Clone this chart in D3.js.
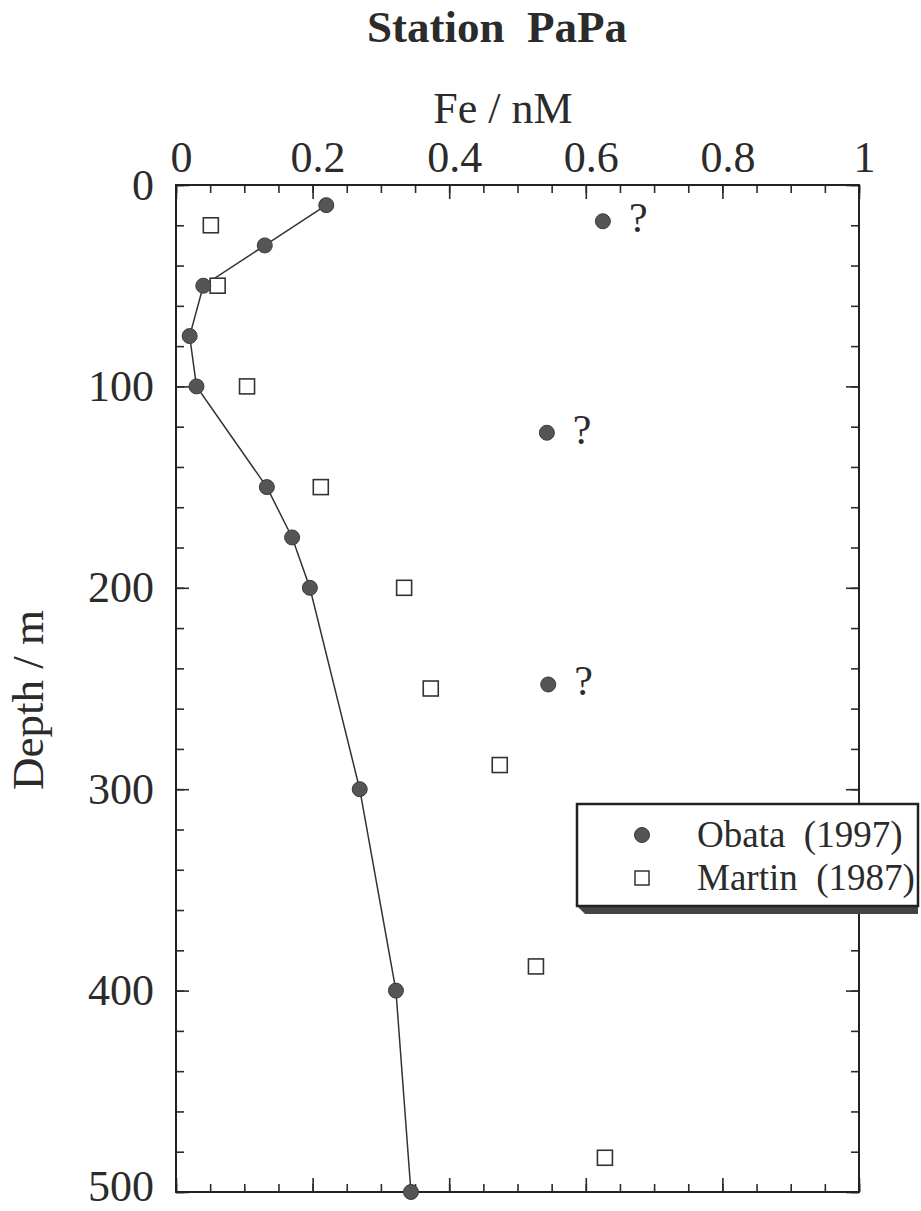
<!DOCTYPE html>
<html>
<head>
<meta charset="utf-8">
<script src="https://cdn.jsdelivr.net/npm/d3@7"></script>
<style>
  body { margin: 0; background: #fff; }
  svg text { font-family: "Liberation Serif", "Times New Roman", serif; fill: #2b2b2b; }
</style>
</head>
<body>
<script>
// Obata (1997) profile, connected
var obataFe    = [0.22, 0.13, 0.04, 0.02, 0.03, 0.133, 0.17, 0.196, 0.269, 0.322, 0.344];
var obataDepth = [10, 30, 50, 75, 100, 150, 175, 200, 300, 400, 500];
// Obata questionable points
var doubtFe    = [0.625, 0.543, 0.545];
var doubtDepth = [18, 123, 248];
// Martin (1987)
var martinFe    = [0.051, 0.061, 0.104, 0.212, 0.334, 0.373, 0.474, 0.527, 0.628];
var martinDepth = [20, 50, 100, 150, 200, 250, 288, 388, 483];

var xMajor = [0, 0.2, 0.4, 0.6, 0.8, 1];
var yMajor = [0, 100, 200, 300, 400, 500];
var legendLabels = ["Obata  (1997)", "Martin  (1987)"];

var W = 921, H = 1211;
var svg = d3.select("body").append("svg").attr("width", W).attr("height", H);

var x = d3.scaleLinear().domain([0, 1]).range([176, 859]);
var y = d3.scaleLinear().domain([0, 500]).range([185, 1192]);
var fmt = function (d) { return d === 0 ? "0" : d === 1 ? "1" : d3.format(".1f")(d); };

// minor ticks
svg.append("g").attr("transform", "translate(0," + y(0) + ")")
    .call(d3.axisTop(x).tickValues(x.ticks(20)).tickSize(-8).tickFormat(""));
svg.append("g").attr("transform", "translate(0," + y(500) + ")")
    .call(d3.axisBottom(x).tickValues(x.ticks(20)).tickSize(-8).tickFormat(""));
svg.append("g").attr("transform", "translate(" + x(0) + ",0)")
    .call(d3.axisLeft(y).tickValues(y.ticks(25)).tickSize(-8).tickFormat(""));
svg.append("g").attr("transform", "translate(" + x(1) + ",0)")
    .call(d3.axisRight(y).tickValues(y.ticks(25)).tickSize(-8).tickFormat(""));

// major ticks with labels
var xTop = svg.append("g").attr("transform", "translate(0," + y(0) + ")")
    .call(d3.axisTop(x).tickValues(xMajor).tickSize(-14).tickPadding(13).tickFormat(fmt));
xTop.selectAll("text").attr("dx", 5);
svg.append("g").attr("transform", "translate(0," + y(500) + ")")
    .call(d3.axisBottom(x).tickValues(xMajor).tickSize(-14).tickFormat(""));
var yLeft = svg.append("g").attr("transform", "translate(" + x(0) + ",0)")
    .call(d3.axisLeft(y).tickValues(yMajor).tickSize(-13).tickPadding(22).tickFormat(d3.format("d")));
// keep the bottom label inside the page
yLeft.selectAll("text").filter(function (d) { return d === 500; }).attr("dy", "0.2em");
svg.append("g").attr("transform", "translate(" + x(1) + ",0)")
    .call(d3.axisRight(y).tickValues(yMajor).tickSize(-13).tickFormat(""));

svg.selectAll(".domain").remove();
svg.selectAll("g").attr("font-family", null);
svg.selectAll(".tick line").attr("stroke", "#2b2b2b").attr("stroke-width", 1.6);
svg.selectAll(".tick text").attr("font-size", 44).attr("fill", "#2b2b2b");

// frame
svg.append("rect")
    .attr("x", x(0)).attr("y", y(0))
    .attr("width", x(1) - x(0)).attr("height", y(500) - y(0))
    .attr("fill", "none").attr("stroke", "#222").attr("stroke-width", 2);

// titles
svg.append("text").attr("x", 497).attr("y", 42).attr("text-anchor", "middle")
    .style("font-size", "45px").style("font-weight", "bold").style("white-space", "pre")
    .text("Station  PaPa");
svg.append("text").attr("x", 503).attr("y", 123).attr("text-anchor", "middle")
    .style("font-size", "44px").text("Fe / nM");
svg.append("text").attr("transform", "translate(43,700) rotate(-90)")
    .attr("text-anchor", "middle").style("font-size", "45px").text("Depth / m");

// Obata line
var obata = obataFe.map(function (d, i) { return { fe: d, depth: obataDepth[i] }; });
svg.append("path").datum(obata)
    .attr("fill", "none").attr("stroke", "#333").attr("stroke-width", 1.5)
    .attr("d", d3.line().x(function (d) { return x(d.fe); }).y(function (d) { return y(d.depth); }));

// Martin squares
var martin = martinFe.map(function (d, i) { return { fe: d, depth: martinDepth[i] }; });
svg.selectAll(".martin").data(martin).enter().append("rect")
    .attr("class", "martin")
    .attr("x", function (d) { return x(d.fe) - 7.5; })
    .attr("y", function (d) { return y(d.depth) - 7.5; })
    .attr("width", 15).attr("height", 15)
    .attr("fill", "#fff").attr("stroke", "#333").attr("stroke-width", 1.6);

// Obata circles
svg.selectAll(".obata").data(obata).enter().append("circle")
    .attr("class", "obata")
    .attr("cx", function (d) { return x(d.fe); })
    .attr("cy", function (d) { return y(d.depth); })
    .attr("r", 7.5).attr("fill", "#555").attr("stroke", "#3a3a3a").attr("stroke-width", 1);

var doubt = doubtFe.map(function (d, i) { return { fe: d, depth: doubtDepth[i] }; });
svg.selectAll(".doubt").data(doubt).enter().append("circle")
    .attr("class", "doubt")
    .attr("cx", function (d) { return x(d.fe); })
    .attr("cy", function (d) { return y(d.depth); })
    .attr("r", 7.5).attr("fill", "#555").attr("stroke", "#3a3a3a").attr("stroke-width", 1);
svg.selectAll(".qmark").data(doubt).enter().append("text")
    .attr("class", "qmark")
    .attr("x", function (d) { return x(d.fe) + 26; })
    .attr("y", function (d) { return y(d.depth) + 11; })
    .style("font-size", "42px").text("?");

// legend
var lg = svg.append("g");
lg.append("path")
    .attr("d", "M577,906 L918,906 L918,914 L585,914 Z")
    .attr("fill", "#444");
lg.append("rect").attr("x", 577).attr("y", 804).attr("width", 341).attr("height", 102)
    .attr("fill", "#fff").attr("stroke", "#222").attr("stroke-width", 2.5);
lg.append("circle").attr("cx", 642).attr("cy", 835).attr("r", 7.5)
    .attr("fill", "#555").attr("stroke", "#3a3a3a");
lg.append("rect").attr("x", 635).attr("y", 871).attr("width", 14).attr("height", 14)
    .attr("fill", "#fff").attr("stroke", "#333").attr("stroke-width", 1.5);
lg.selectAll(".lgtext").data(legendLabels).enter().append("text")
    .attr("class", "lgtext")
    .attr("x", 697)
    .attr("y", function (d, i) { return 847 + i * 43; })
    .style("white-space", "pre")
    .style("font-size", "37px")
    .text(function (d) { return d; });
</script>
</body>
</html>
